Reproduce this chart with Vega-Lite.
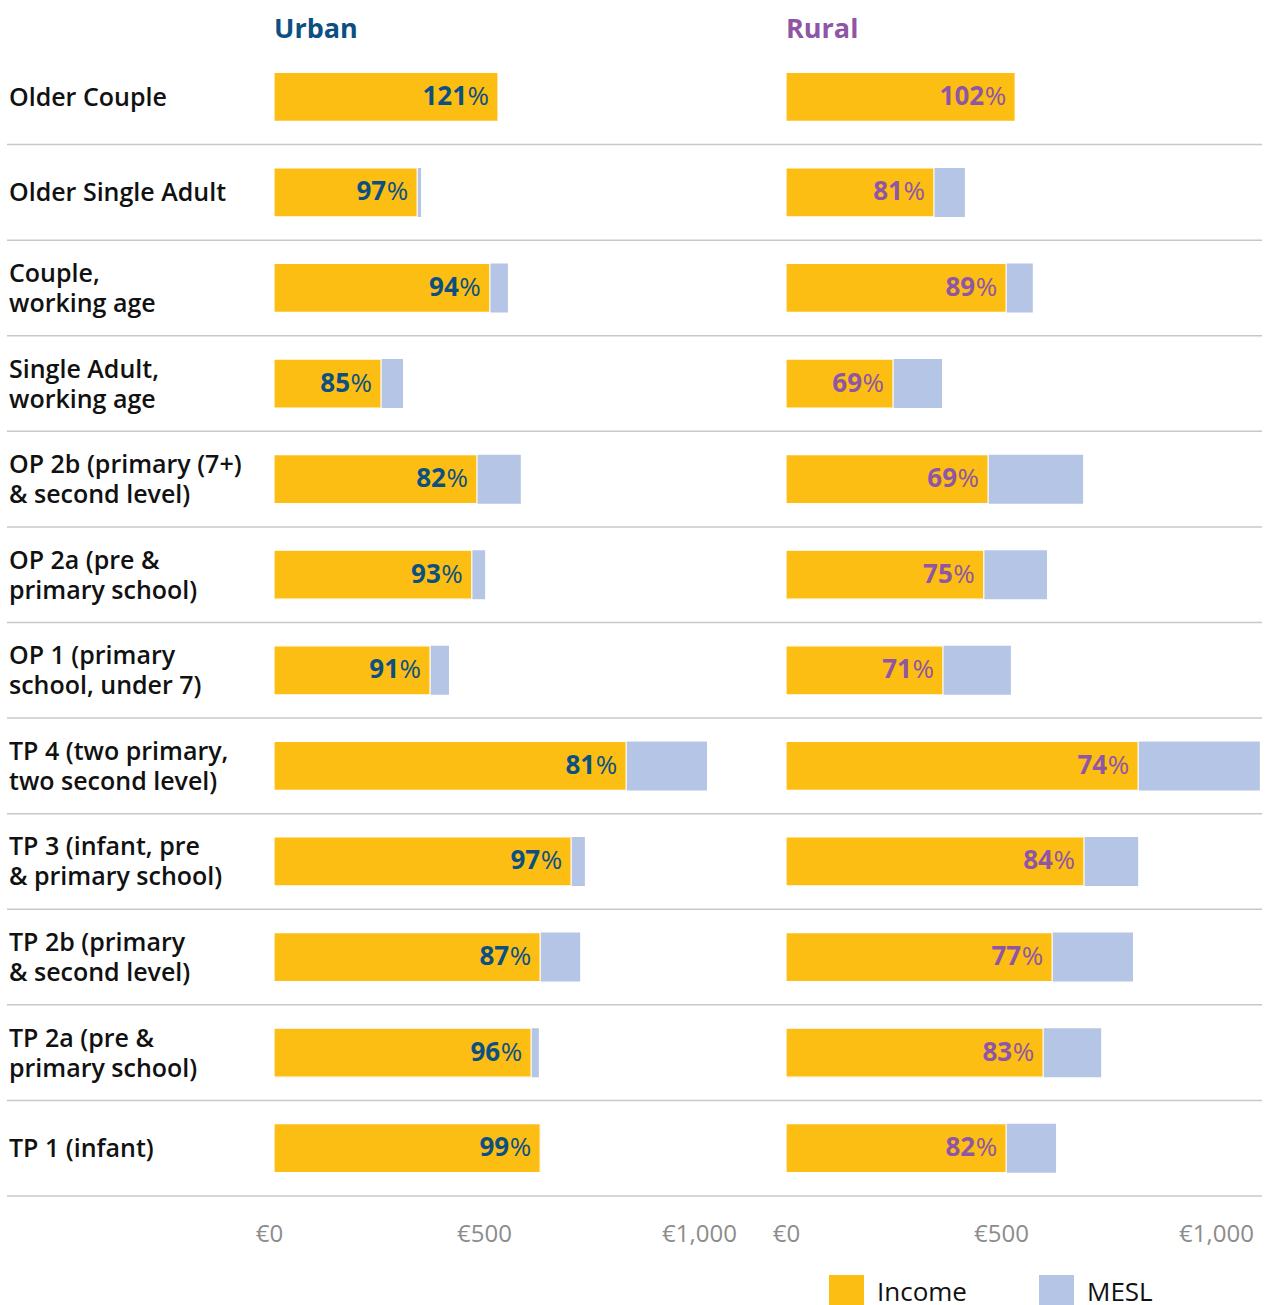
{
  "$schema": "https://vega.github.io/schema/vega-lite/v6.json",
  "padding": {"left": 6, "top": 16, "right": 0, "bottom": 0},
  "bounds": "flush",
  "spacing": 0,
  "config": {
    "font": "Open Sans",
    "view": {"stroke": null},
    "axis": {"labelFont": "Open Sans"},
    "legend": {"labelFont": "Open Sans"}
  },
  "datasets": {
    "urban": [
      {"cat": "Older Couple", "income": 521, "mesl": 430, "pct": 121},
      {"cat": "Older Single Adult", "income": 333, "mesl": 342, "pct": 97},
      {"cat": "Couple,\nworking age", "income": 502, "mesl": 544, "pct": 94},
      {"cat": "Single Adult,\nworking age", "income": 249, "mesl": 300, "pct": 85},
      {"cat": "OP 2b (primary (7+)\n& second level)", "income": 472, "mesl": 574, "pct": 82},
      {"cat": "OP 2a (pre &\nprimary school)", "income": 460, "mesl": 491, "pct": 93},
      {"cat": "OP 1 (primary\nschool, under 7)", "income": 363, "mesl": 407, "pct": 91},
      {"cat": "TP 4 (two primary,\ntwo second level)", "income": 819, "mesl": 1007, "pct": 81},
      {"cat": "TP 3 (infant, pre\n& primary school)", "income": 691, "mesl": 723, "pct": 97},
      {"cat": "TP 2b (primary\n& second level)", "income": 619, "mesl": 712, "pct": 87},
      {"cat": "TP 2a (pre &\nprimary school)", "income": 598, "mesl": 616, "pct": 96},
      {"cat": "TP 1 (infant)", "income": 619, "mesl": 620, "pct": 99}
    ],
    "rural": [
      {"cat": "Older Couple", "income": 533, "mesl": 522, "pct": 102},
      {"cat": "Older Single Adult", "income": 344, "mesl": 416, "pct": 81},
      {"cat": "Couple,\nworking age", "income": 512, "mesl": 574, "pct": 89},
      {"cat": "Single Adult,\nworking age", "income": 249, "mesl": 363, "pct": 69},
      {"cat": "OP 2b (primary (7+)\n& second level)", "income": 470, "mesl": 691, "pct": 69},
      {"cat": "OP 2a (pre &\nprimary school)", "income": 460, "mesl": 607, "pct": 75},
      {"cat": "OP 1 (primary\nschool, under 7)", "income": 365, "mesl": 523, "pct": 71},
      {"cat": "TP 4 (two primary,\ntwo second level)", "income": 819, "mesl": 1102, "pct": 74},
      {"cat": "TP 3 (infant, pre\n& primary school)", "income": 693, "mesl": 819, "pct": 84},
      {"cat": "TP 2b (primary\n& second level)", "income": 619, "mesl": 807, "pct": 77},
      {"cat": "TP 2a (pre &\nprimary school)", "income": 598, "mesl": 733, "pct": 83},
      {"cat": "TP 1 (infant)", "income": 512, "mesl": 628, "pct": 82}
    ]
  },
  "resolve": {"scale": {"x": "independent", "y": "independent", "color": "shared"}},
  "hconcat": [
    {
      "width": 779,
      "height": 1147,
      "data": {"name": "urban"},
      "title": {"text": "Urban", "anchor": "start", "frame": "group", "dx": 267, "fontSize": 27, "fontWeight": 700, "color": "#0c5082", "font": "Open Sans", "offset": 5},
      "encoding": {
        "y": {"field": "cat", "type": "nominal", "sort": null, "axis": null, "scale": {"paddingInner": 0, "paddingOuter": 0}}
      },
      "layer": [
        {
          "mark": {"type": "rule", "color": "#c8c8c8", "strokeWidth": 1.5},
          "encoding": {"y": {"field": "cat", "type": "nominal", "sort": null, "bandPosition": 1}}
        },
        {
          "mark": {"type": "bar", "size": 49},
          "encoding": {
            "x": {"field": "mesl", "type": "quantitative", "scale": {"domain": [-620.9, 1190.7], "nice": false, "zero": false},
              "axis": {"values": [0, 500, 1000], "labelExpr": "'€' + format(datum.value, ',')", "title": null, "domain": false, "ticks": false, "tickSize": 0, "grid": false, "labelFontSize": 24, "labelColor": "#8c8c8c", "labelPadding": 26, "labelFlush": false, "labelOffset": -5}},
            "color": {"datum": "MESL", "type": "nominal", "scale": {"domain": ["Income", "MESL"], "range": ["#fdbe14", "#b4c5e5"]},
              "legend": {"orient": "none", "legendX": 822, "legendY": 1226, "direction": "horizontal", "title": null, "symbolType": "square", "symbolSize": 1225, "symbolStrokeWidth": 0, "symbolOpacity": 1, "labelFontSize": 26, "labelColor": "#111111", "labelOffset": 13, "columnPadding": 72}}
          }
        },
        {
          "mark": {"type": "bar", "size": 49, "stroke": "white", "strokeWidth": 1.2},
          "encoding": {
            "x": {"field": "income", "type": "quantitative"},
            "color": {"datum": "Income", "type": "nominal"}
          }
        },
        {
          "mark": {"type": "text", "align": "right", "baseline": "middle", "dx": -31, "fontSize": 26, "fontWeight": 700, "color": "#0c5082"},
          "encoding": {
            "x": {"field": "income", "type": "quantitative"},
            "text": {"field": "pct", "type": "quantitative", "format": "d"}
          }
        },
        {
          "mark": {"type": "text", "align": "right", "baseline": "middle", "dx": -9, "fontSize": 26, "fontWeight": 400, "color": "#0c5082", "text": "%"},
          "encoding": {
            "x": {"field": "income", "type": "quantitative"}
          }
        },
        {
          "transform": [{"filter": "indexof(datum.cat, '\\n') < 0"}],
          "mark": {"type": "text", "align": "left", "baseline": "middle", "dx": 2, "dy": 1, "fontSize": 25, "fontWeight": 600, "color": "#111111"},
          "encoding": {
            "x": {"datum": -620.9, "type": "quantitative"},
            "text": {"field": "cat", "type": "nominal"}
          }
        },
        {
          "transform": [{"filter": "indexof(datum.cat, '\\n') >= 0"}],
          "mark": {"type": "text", "align": "left", "baseline": "middle", "dx": 2, "dy": -14, "fontSize": 25, "fontWeight": 600, "color": "#111111", "lineBreak": "\n", "lineHeight": 30},
          "encoding": {
            "x": {"datum": -620.9, "type": "quantitative"},
            "text": {"field": "cat", "type": "nominal"}
          }
        }
      ]
    },
    {
      "width": 476,
      "height": 1147,
      "data": {"name": "rural"},
      "title": {"text": "Rural", "anchor": "start", "frame": "group", "dx": 0, "fontSize": 27, "fontWeight": 700, "color": "#8e56a5", "font": "Open Sans", "offset": 5},
      "encoding": {
        "y": {"field": "cat", "type": "nominal", "sort": null, "axis": null, "scale": {"paddingInner": 0, "paddingOuter": 0}}
      },
      "layer": [
        {
          "mark": {"type": "rule", "color": "#c8c8c8", "strokeWidth": 1.5},
          "encoding": {"y": {"field": "cat", "type": "nominal", "sort": null, "bandPosition": 1}}
        },
        {
          "mark": {"type": "bar", "size": 49},
          "encoding": {
            "x": {"field": "mesl", "type": "quantitative", "scale": {"domain": [0, 1107], "nice": false},
              "axis": {"values": [0, 500, 1000], "labelExpr": "'€' + format(datum.value, ',')", "title": null, "domain": false, "ticks": false, "tickSize": 0, "grid": false, "labelFontSize": 24, "labelColor": "#8c8c8c", "labelPadding": 26, "labelFlush": false}},
            "color": {"datum": "MESL", "type": "nominal"}
          }
        },
        {
          "mark": {"type": "bar", "size": 49, "stroke": "white", "strokeWidth": 1.2},
          "encoding": {
            "x": {"field": "income", "type": "quantitative"},
            "color": {"datum": "Income", "type": "nominal"}
          }
        },
        {
          "mark": {"type": "text", "align": "right", "baseline": "middle", "dx": -31, "fontSize": 26, "fontWeight": 700, "color": "#8e56a5"},
          "encoding": {
            "x": {"field": "income", "type": "quantitative"},
            "text": {"field": "pct", "type": "quantitative", "format": "d"}
          }
        },
        {
          "mark": {"type": "text", "align": "right", "baseline": "middle", "dx": -9, "fontSize": 26, "fontWeight": 400, "color": "#8e56a5", "text": "%"},
          "encoding": {
            "x": {"field": "income", "type": "quantitative"}
          }
        }
      ]
    }
  ]
}
